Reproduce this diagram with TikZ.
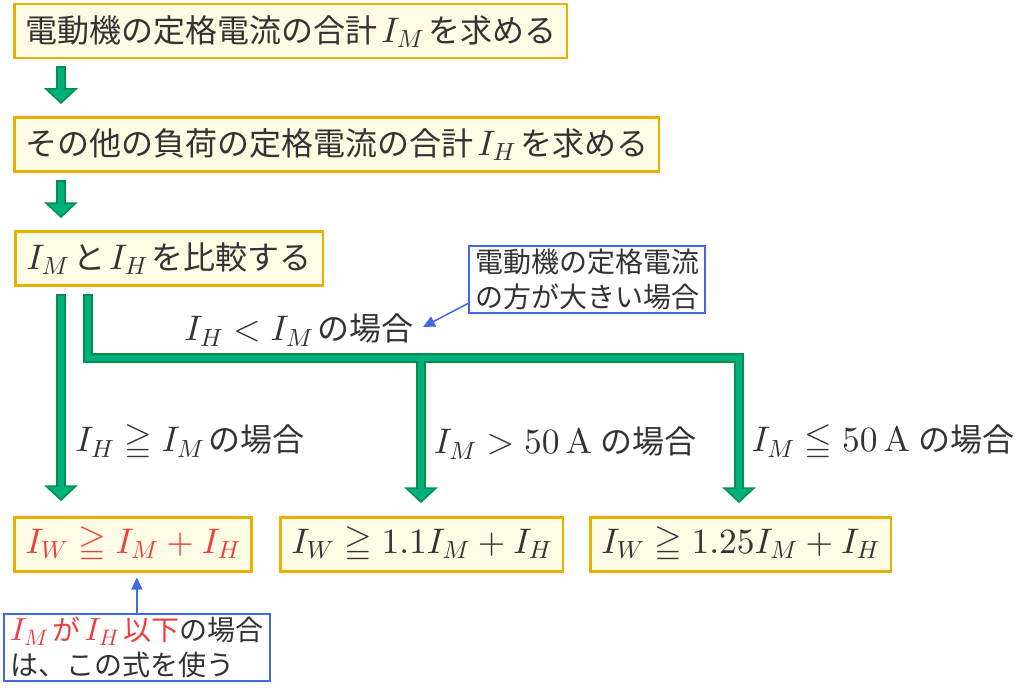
\documentclass[tikz,border=0pt]{standalone}
\usepackage{amsmath,amssymb}
\usepackage[no-math]{fontspec}
\setmainfont{Noto Sans CJK JP}
\DeclareFontShape{OT1}{cmr}{m}{n}{<->cmr10}{}
\DeclareFontShape{OML}{cmm}{m}{it}{<->cmmi10}{}
\DeclareFontShape{OMS}{cmsy}{m}{n}{<->cmsy10}{}
\DeclareFontFamily{U}{msa}{}
\DeclareFontShape{U}{msa}{m}{n}{<->msam10}{}
\usetikzlibrary{arrows.meta,calc}
\definecolor{ybd}{HTML}{E8B000}
\definecolor{ybg}{HTML}{FFFCE6}
\definecolor{gdk}{HTML}{00904A}
\definecolor{glt}{HTML}{00B07C}
\definecolor{bl}{HTML}{4169E1}
\definecolor{rd}{HTML}{F03C3C}
\definecolor{tx}{HTML}{333333}
\newcommand\mth[1]{{\fontsize{35.5}{40}\selectfont$#1$}}
\newcommand\mths[1]{{\fontsize{32}{36}\selectfont$#1$}}
\newcommand\gap{\hspace{4pt}}
\newcommand\headtri[1]{\fill[ghead] ($(#1)+(-15,-14)$) -- ($(#1)+(15,-14)$) -- (#1) -- cycle;}
\begin{document}
\begin{tikzpicture}[x=1pt,y=-1pt,
  ybox/.style={draw=ybd, fill=ybg, line width=2.5pt, text=tx, font=\fontsize{32}{38}\selectfont, inner xsep=11pt, inner ysep=0pt, minimum height=54pt, anchor=north west},
  blbox/.style={draw=bl, line width=2pt, fill=white, text=tx, font=\fontsize{28}{35}\selectfont, align=left, inner xsep=6pt, inner ysep=3pt, anchor=north west},
  lbl/.style={text=tx, font=\fontsize{32}{38}\selectfont},
  gout/.style={draw=gdk, line width=10pt, line join=miter, line cap=butt},
  gin/.style={draw=glt, line width=6pt, line join=miter, line cap=butt},
  ghead/.style={fill=glt, draw=gdk, line width=1.5pt, line join=miter},
  barrow/.style={draw=bl, line width=1.5pt, -{Triangle[length=12pt,width=11pt]}}
]
\useasboundingbox (0,0) rectangle (1016,690);
% boxes
\node[ybox] (b1) at (13,3) {電動機の定格電流の合計\gap\mth{I_M}\gap を求める};
\node[ybox] (b2) at (13,116) {その他の負荷の定格電流の合計\gap\mth{I_H}\gap を求める};
\node[ybox] (b3) at (14,230) {\mth{I_M}\gap と\gap\mth{I_H}\gap を比較する};
\node[ybox] (rA) at (13,516) {\color{rd}\mth{I_W \geqq I_M + I_H}};
\node[ybox] (rB) at (279,516) {\mth{I_W \geqq 1.1I_M + I_H}};
\node[ybox] (rC) at (589,516) {\mth{I_W \geqq 1.25I_M + I_H}};
% coordinates of green flow arrows
\coordinate (a1s) at (61,66);  \coordinate (a1t) at (61,103);
\coordinate (a2s) at (61,180); \coordinate (a2t) at (61,217);
\coordinate (ls) at (61,294);  \coordinate (lt) at (61,500);
\coordinate (L0) at (88,294);  \coordinate (L1) at (88,358);
\coordinate (L2) at (739,358); \coordinate (L3) at (739,502);
\coordinate (M0) at (421,358); \coordinate (M1) at (421,502);
% dark pass
\draw[gout] (a1s) -- ($(a1t)+(0,-12)$);
\draw[gout] (a2s) -- ($(a2t)+(0,-12)$);
\draw[gout] (ls) -- ($(lt)+(0,-12)$);
\draw[gout] (L0) -- (L1) -- (L2) -- ($(L3)+(0,-12)$);
\draw[gout] (M0) -- ($(M1)+(0,-12)$);
% heads
\headtri{a1t}\headtri{a2t}\headtri{lt}\headtri{L3}\headtri{M1}
% light pass
\draw[gin] ($(a1s)+(0,2)$) -- ($(a1t)+(0,-10)$);
\draw[gin] ($(a2s)+(0,2)$) -- ($(a2t)+(0,-10)$);
\draw[gin] ($(ls)+(0,2)$) -- ($(lt)+(0,-10)$);
\draw[gin] ($(L0)+(0,2)$) -- (L1) -- (L2) -- ($(L3)+(0,-10)$);
\draw[gin] (M0) -- ($(M1)+(0,-10)$);
% labels
\node[lbl] (lcmp) at (299,330) {\mth{I_H < I_M}\gap の場合};
\node[lbl] (lleft) at (190,443) {\mth{I_H \geqq I_M}\gap の場合};
\node[lbl] (lmid) at (565,443) {\mth{I_M > 50\,\mathrm{A}}\gap\gap の場合};
\node[lbl] (lright) at (883,443) {\mth{I_M \leqq 50\,\mathrm{A}}\gap\gap の場合};
% blue notes
\node[blbox] (n1) at (468,245) {電動機の定格電流\\の方が大きい場合};
\node[blbox] (n2) at (3,613) {{\color{rd}\mths{I_M}\gap が\gap\mths{I_H}\gap 以下}の場合\\は、この式を使う};
\coordinate (n1t) at (423,327);
\draw[barrow] ([yshift=-24pt]n1.west) -- (n1t);
\draw[barrow] (n2.north) -- ([yshift=-5pt]n2.north |- rA.south);
\end{tikzpicture}
\end{document}
